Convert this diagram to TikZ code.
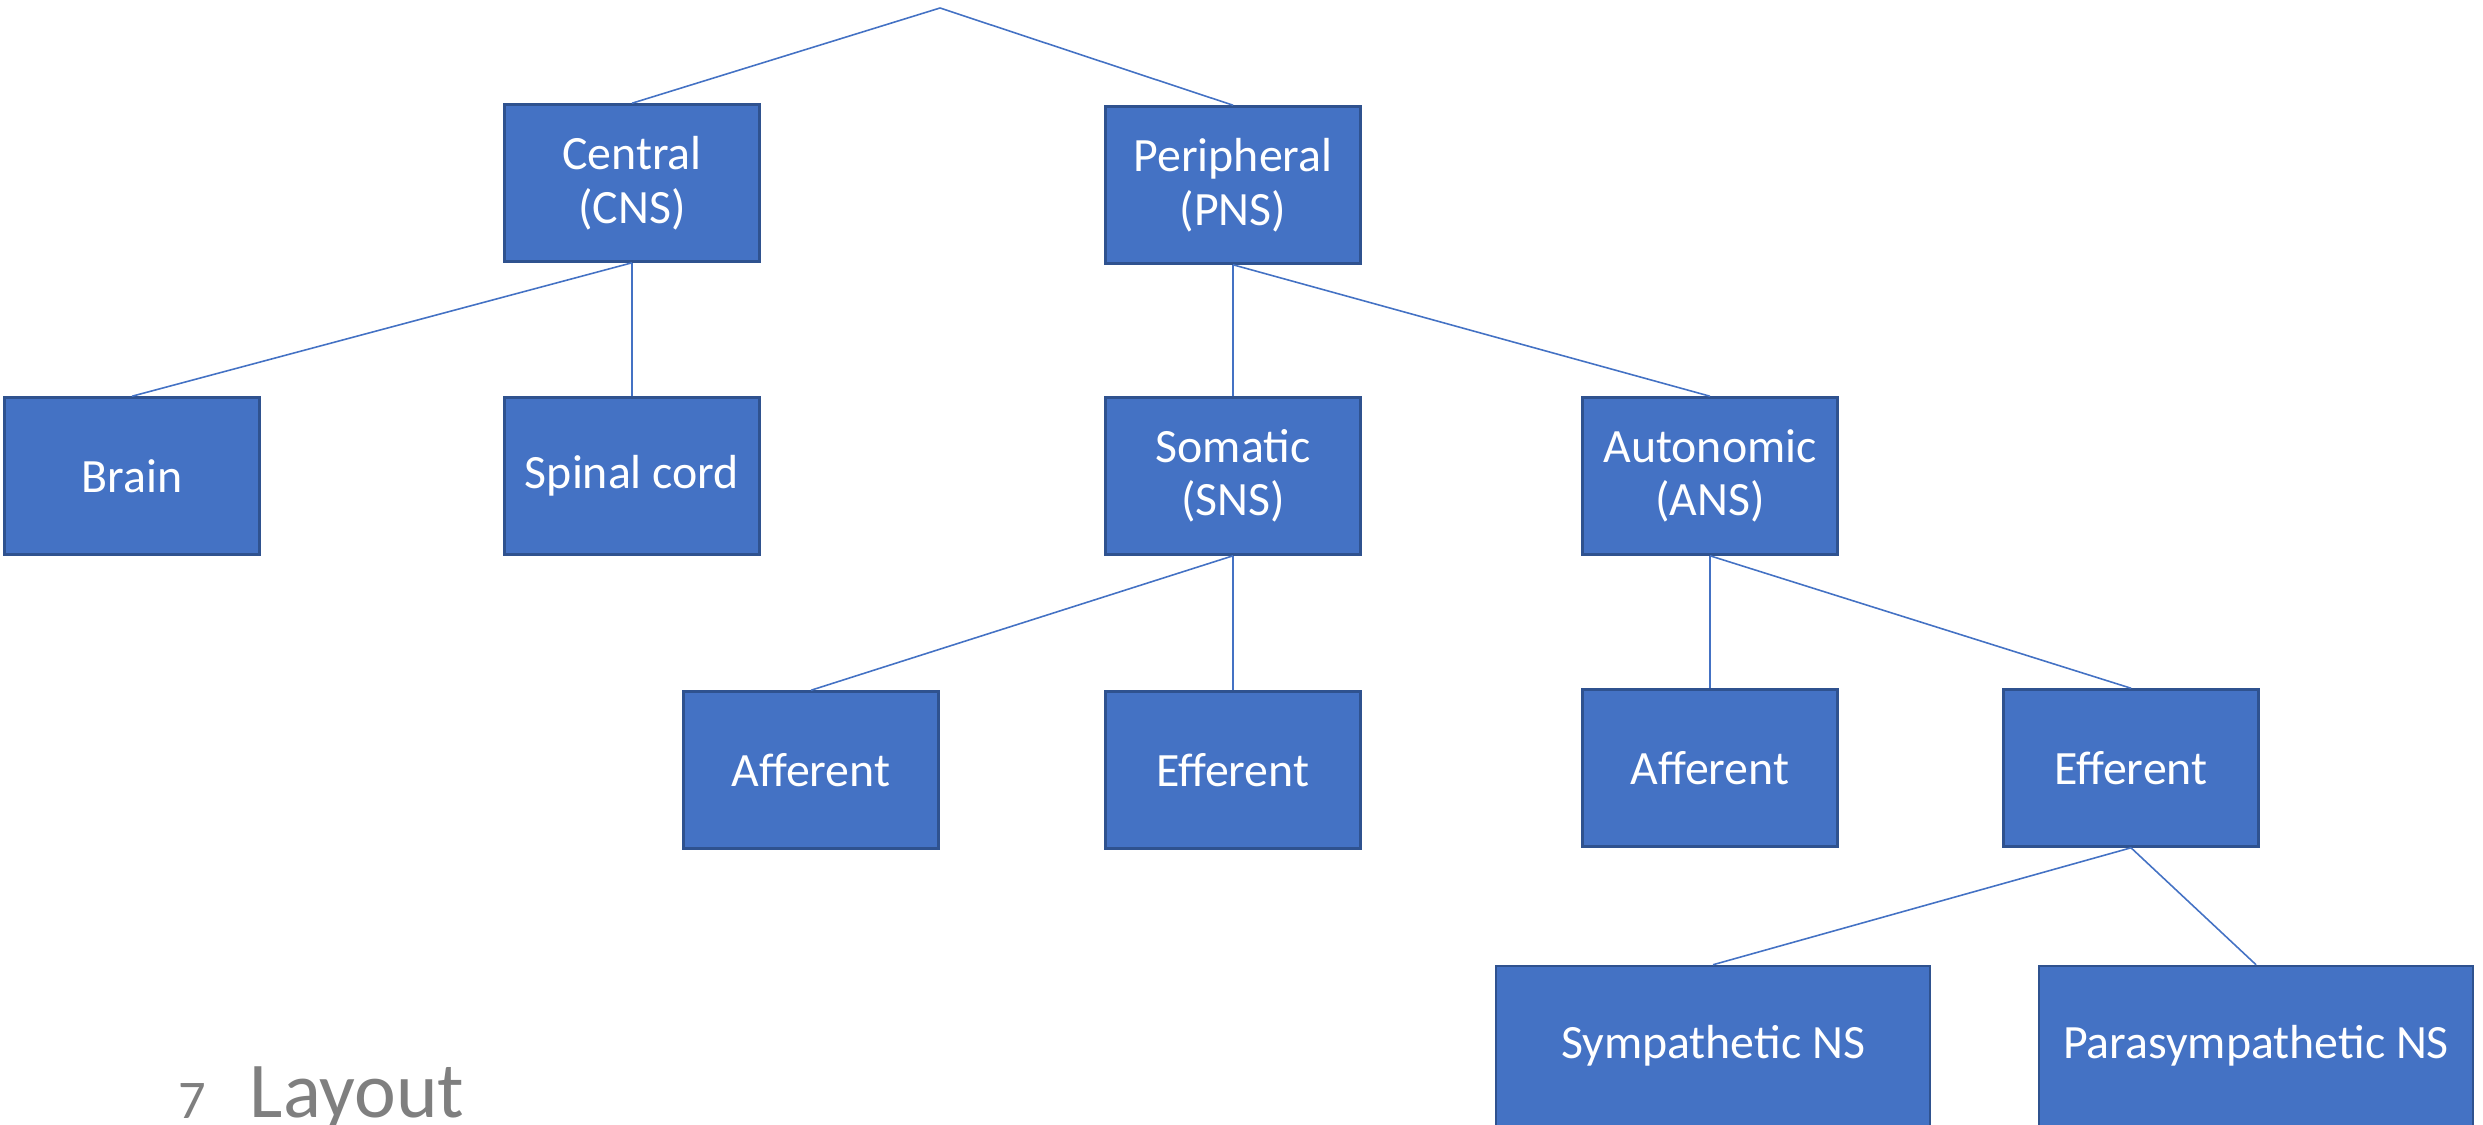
\documentclass[tikz,border=0pt]{standalone}
\usepackage{fontspec}
\setmainfont{Carlito}
\definecolor{boxblue}{HTML}{4472C4}
\definecolor{boxedge}{HTML}{2F528F}
\definecolor{slidegray}{HTML}{7F7F7F}

\begin{document}
\begin{tikzpicture}[x=0.01cm,y=-0.01cm,line width=0.45pt,
  unit/.style={draw=boxedge,line width=0.7pt,fill=boxblue,text=white,inner sep=0pt,
    minimum width=2.55cm,minimum height=1.57cm,align=center,
    font=\fontsize{13.6}{15.2}\selectfont},
  wide/.style={unit,minimum width=4.34cm,minimum height=1.6cm},
  link/.style={draw=boxblue,line width=0.45pt}]
\useasboundingbox (0,0) rectangle (2483,1124);
\clip (0,0) rectangle (2483,1124);
% ---------- level 1 ----------
\coordinate (top) at (940,8);
\node[unit] (cns) at (632,183) {Central\\(CNS)};
\node[unit] (pns) at (1233,185) {Peripheral\\(PNS)};
% ---------- level 2 ----------
\node[unit] (brain) at (132,476) {Brain};
\node[unit] (spinal) at (632,476) {Spinal cord};
\node[unit] (sns) at (1233,476) {Somatic\\(SNS)};
\node[unit] (ans) at (1710,476) {Autonomic\\(ANS)};
% ---------- level 3 ----------
\node[unit] (saff) at (811,770) {Afferent};
\node[unit] (seff) at (1233,770) {Efferent};
\node[unit] (aaff) at (1710,768) {Afferent};
\node[unit] (aeff) at (2131,768) {Efferent};
% ---------- level 4 ----------
\node[wide] (symp) at (1713,1046) {Sympathetic NS};
\node[wide] (para) at (2256,1046) {Parasympathetic NS};
% ---------- connectors ----------
\draw[link] (top) -- (cns.north);
\draw[link] (top) -- (pns.north);
\draw[link] (cns.south) -- (brain.north);
\draw[link] (cns.south) -- (spinal.north);
\draw[link] (pns.south) -- (sns.north);
\draw[link] (pns.south) -- (ans.north);
\draw[link] (sns.south) -- (saff.north);
\draw[link] (sns.south) -- (seff.north);
\draw[link] (ans.south) -- (aaff.north);
\draw[link] (ans.south) -- (aeff.north);
\draw[link] (aeff.south) -- (symp.north);
\draw[link] (aeff.south) -- (para.north);
% ---------- slide footer ----------
\node[anchor=base west,inner sep=0pt,text=slidegray,font=\fontsize{15.5}{18}\selectfont] (num) at (178,1118) {7};
\node[anchor=base west,inner sep=0pt,text=slidegray,font=\fontsize{22.5}{27}\selectfont] (layout) at (249,1117) {Layout};
\end{tikzpicture}
\end{document}
